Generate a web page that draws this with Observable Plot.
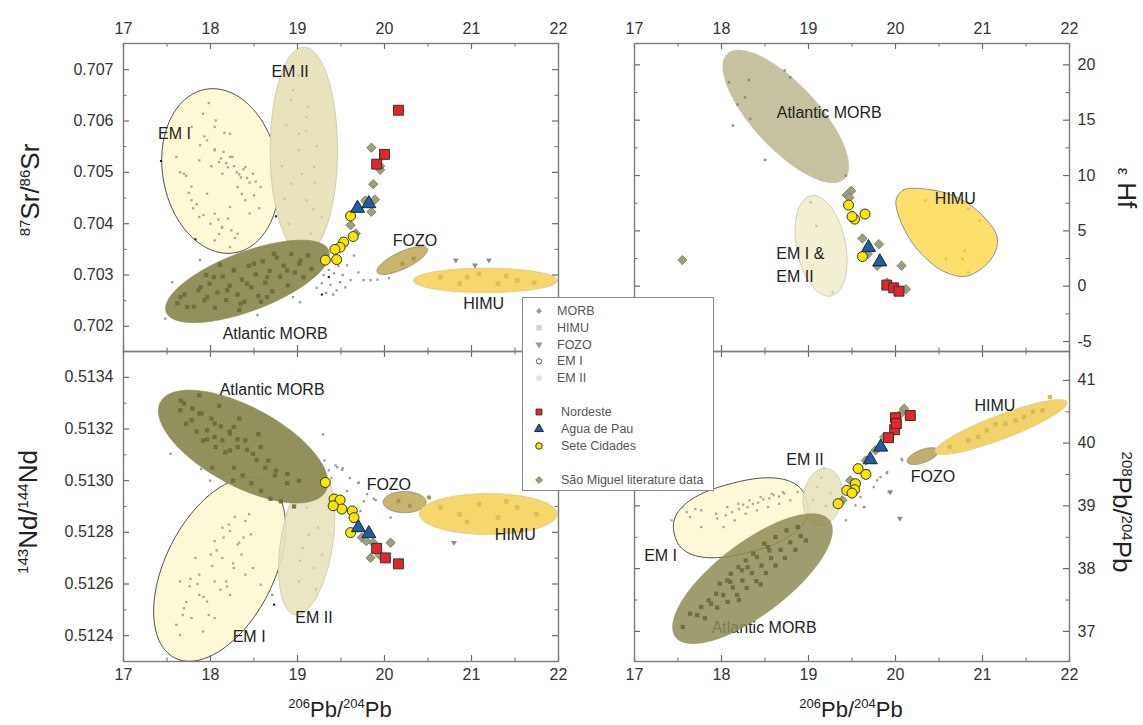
<!DOCTYPE html>
<html><head><meta charset="utf-8">
<script src="https://cdn.jsdelivr.net/npm/d3@7"></script>
<script src="https://cdn.jsdelivr.net/npm/@observablehq/plot@0.6"></script>
<style>
body{margin:0;background:#fff;}
#chart{position:relative;width:1143px;height:725px;font-family:"Liberation Sans",Arial,Helvetica,sans-serif;overflow:hidden;background:#fff;}
#chart svg.panel{position:absolute;overflow:visible;background:transparent;}
.title{position:absolute;color:#222;white-space:nowrap;line-height:1;}
.side{font-size:26px;}
.side sup{font-size:15px;}
.bottom{font-size:22px;}
.bottom sup{font-size:13px;}
#legend{position:absolute;left:522px;top:297px;width:190px;height:192px;border:1px solid #8a8a8a;background:#fff;}
#legend .lt{position:absolute;font-size:12.5px;color:#555;white-space:nowrap;line-height:1;transform:translateY(-50%);}
</style></head><body><div id="chart"></div>
<script>
// ---------------- axes ----------------
const xMajor = [17, 18, 19, 20, 21, 22];
const xMinor = [17.5, 18.5, 19.5, 20.5, 21.5];
const srMajor = [0.702, 0.703, 0.704, 0.705, 0.706, 0.707];
const srMinor = [0.7025, 0.7035, 0.7045, 0.7055, 0.7065];
const ndMajor = [0.5124, 0.5126, 0.5128, 0.5130, 0.5132, 0.5134];
const ndMinor = [0.5125, 0.5127, 0.5129, 0.5131, 0.5133];
const hfMajor = [-5, 0, 5, 10, 15, 20];
const hfMinor = [-2.5, 2.5, 7.5, 12.5, 17.5];
const pbMajor = [37, 38, 39, 40, 41];
const pbMinor = [37.5, 38.5, 39.5, 40.5];

// ---------------- top-left: 87Sr/86Sr vs 206Pb/204Pb ----------------
const tlRegions = [
  {name: "EM I", cx: 18.114, cy: 0.705026, ax: -0.088, ay: 0.001604, bx: 0.669, by: 0},
  {name: "EM II", cx: 19.073, cy: 0.705429, ax: 0, ay: 0.002013, bx: 0.387, by: 0},
  {name: "Atlantic MORB", cx: 18.425, cy: 0.702876, ax: 0.9345, ay: 0.0006, bx: 0.1195, by: -0.000536},
  {name: "FOZO", cx: 20.203, cy: 0.703285, ax: 0.287, ay: 0.000228, bx: 0.041, by: -0.00015},
  {name: "HIMU", cx: 21.161, cy: 0.702895, ax: 0.828, ay: 0, bx: 0, by: 0.000238}
];
const tlLabels = [
  {text: "EM II", x: 18.915, y: 0.706955},
  {text: "EM I", x: 17.585, y: 0.705753},
  {text: "FOZO", x: 20.35, y: 0.703662},
  {text: "HIMU", x: 21.14, y: 0.702429},
  {text: "Atlantic MORB", x: 18.743, y: 0.701857}
];
const tlEm1Dots = [[17.695,0.704974],[17.871,0.705234],[18.048,0.705429],[18.224,0.705299],[18.40,0.705104],[18.488,0.704974],[18.136,0.704974],[18.312,0.704714],[17.96,0.704584],[17.783,0.704455],[18.048,0.704195],[18.224,0.704325],[18.136,0.703935],[18.312,0.703805],[17.96,0.705623],[17.783,0.705883],[18.048,0.705883],[18.224,0.705753],[17.915,0.706143],[18.576,0.704714],[17.607,0.705299],[18.40,0.704455],[18.048,0.703675],[18.224,0.703545],[17.871,0.70413],[18.1,0.7052],[18.2,0.7051],[18.3,0.705],[18.35,0.7049],[18.45,0.7048],[18.15,0.7054],[18.25,0.7053],[17.75,0.7046],[17.8,0.7043],[18.0,0.704],[18.1,0.7038],[18.2,0.7041],[18.45,0.7042],[17.65,0.705],[18.05,0.70545],[18.12,0.70527],[18.18,0.70518],[18.27,0.70512],[18.33,0.70496],[18.38,0.70506],[18.42,0.70489],[18.52,0.70482],[17.88,0.70553],[17.93,0.7057],[18.01,0.70512],[17.72,0.70493],[17.78,0.70472],[17.84,0.70438],[17.92,0.70417],[18.09,0.70408],[18.13,0.70392],[18.24,0.70387],[18.28,0.70372],[18.06,0.70601],[18.16,0.70577],[17.98,0.70635],[18.36,0.70458],[18.5,0.70455],[18.56,0.7043]];
const tlEm2Dots = [[18.928,0.706403],[19.104,0.706078],[19.016,0.705429],[19.192,0.705104],[18.928,0.704779],[19.104,0.704455],[19.28,0.70413],[19.016,0.705753],[18.95,0.7066],[19.1,0.7058],[19.2,0.7048],[18.9,0.704],[19.15,0.7038],[18.82,0.70512],[19.05,0.70497],[19.22,0.70551],[18.87,0.70593],[19.12,0.70628],[19.01,0.70689],[19.18,0.70428],[18.85,0.70448]];
const tlMorbDots = [[17.732,0.702375],[17.962,0.70257],[18.192,0.702701],[18.422,0.702831],[18.652,0.70296],[18.882,0.70309],[18.038,0.70296],[18.268,0.70309],[18.498,0.703221],[17.885,0.702765],[18.345,0.702442],[18.652,0.70257],[19.034,0.703285],[17.655,0.70257],[18.728,0.703416],[17.62,0.70245],[17.7,0.70262],[17.81,0.70238],[17.86,0.7027],[17.93,0.70251],[17.99,0.70283],[18.05,0.70236],[18.08,0.70266],[18.14,0.70297],[18.18,0.70251],[18.22,0.70279],[18.27,0.7031],[18.31,0.70262],[18.36,0.70291],[18.39,0.70248],[18.44,0.70318],[18.47,0.70276],[18.52,0.70301],[18.55,0.70259],[18.6,0.70327],[18.63,0.70285],[18.68,0.70308],[18.71,0.70268],[18.76,0.70334],[18.8,0.70297],[18.84,0.70318],[18.89,0.7028],[18.93,0.70341],[18.97,0.70305],[19.02,0.70322],[19.07,0.70296],[19.12,0.70338],[19.16,0.70312],[18.11,0.7032],[18.33,0.70232],[18.58,0.70248],[17.95,0.703]];
const tlHimuDots = [[20.644,0.702961],[21.085,0.703026],[21.525,0.702896],[20.864,0.702831],[21.305,0.702831],[20.95,0.70296],[21.4,0.70298],[21.72,0.70285]];
const tlFozoDots = [[20.204,0.703221],[20.336,0.703318]];
const tlMorbGray = [[19.28,0.70284],[19.38,0.70281],[19.42,0.70303],[19.45,0.7027],[19.49,0.70286],[19.61,0.7029],[19.76,0.7029],[19.84,0.7029],[19.92,0.70291],[20.05,0.70294],[19.57,0.70319],[19.65,0.70338],[17.56,0.70286],[17.88,0.70329],[18.54,0.70222],[17.48,0.70215],[19.03,0.70247],[18.95,0.70257],[19.33,0.70265],[19.52,0.703],[19.36,0.7031],[19.22,0.70275],[19.7,0.70305],[19.3,0.703],[19.41,0.70262],[19.55,0.70276],[19.47,0.70318]];
const tlEm1Black = [[19.36,0.70296],[18.752,0.704143],[17.827,0.703695],[17.431,0.705221],[19.28,0.70262]];
const tlFozoTri = [[20.82,0.70329],[21.2,0.70329],[21.04,0.70319]];
const tlLiterature = [[19.85,0.70548],[19.95,0.70512],[19.87,0.70477],[19.89,0.70447],[19.85,0.70423],[19.61,0.70397],[19.67,0.70381],[19.78,0.70445],[19.95,0.70505]];
const tlSeteCidades = [[19.61,0.70415],[19.64,0.70375],[19.53,0.70364],[19.49,0.70354],[19.43,0.7035],[19.45,0.7033],[19.32,0.70329]];
const tlAguaDePau = [[19.69,0.7043],[19.82,0.70439]];
const tlNordeste = [[20.16,0.70621],[20.0,0.70535],[19.91,0.70516]];

// ---------------- top-right: εHf vs 206Pb/204Pb ----------------
const trRegions = [
  {name: "Atlantic MORB", cx: 18.739, cy: 15.34, ax: 0.671, ay: -5.656, bx: 0.272, by: 2.0},
  {name: "EM I & EM II", cx: 19.144, cy: 3.647, ax: -0.116, ay: 4.525, bx: 0.276, by: 0.439}
];
const trHimuOutline = [[20.005,7.73],[20.09,8.69],[20.346,8.78],[20.666,8.18],[20.964,6.67],[21.169,4.41],[21.113,2.6],[20.836,0.94],[20.58,1.24],[20.3,2.9],[20.11,5.01]];
const trLabels = [
  {text: "Atlantic MORB", x: 19.238, y: 15.63},
  {text: "HIMU", x: 20.687, y: 7.88}
];
const trLabelsLeft = [
  {text: "EM I &", x: 18.63, y: 2.9},
  {text: "EM II", x: 18.63, y: 0.85}
];
const trMorbDots = [[18.087,18.43],[18.313,18.64],[18.27,17.07],[18.185,16.41],[18.33,15.11],[18.13,14.51],[18.726,19.49],[18.79,18.88],[18.5,11.41],[19.43,9.99]];
const trHimuDots = [[20.346,7.73],[20.836,6.97],[20.964,5.92],[20.794,3.2],[20.77,2.45],[20.58,2.45],[20.836,1.24]];
const trEmDots = [[19.025,7.58],[19.09,5.46],[19.28,-0.57]];
const trLiterature = [[19.49,8.62],[19.44,8.24],[19.47,8.0],[19.62,4.31],[19.81,3.8],[20.12,-0.27],[19.9,0.33],[19.79,1.84],[19.68,2.9],[20.07,1.85],[17.55,2.36]];
const trSeteCidades = [[19.46,7.33],[19.53,6.06],[19.65,6.52],[19.5,6.3],[19.62,2.68]];
const trAguaDePau = [[19.69,3.49],[19.82,2.2]];
const trNordeste = [[19.9,0.1],[19.98,-0.15],[20.04,-0.45]];

// ---------------- bottom-left: 143Nd/144Nd vs 206Pb/204Pb ----------------
const blRegions = [
  {name: "EM I", cx: 18.105, cy: 0.512657, ax: 0.517, ay: 0.000343, bx: 0.555, by: -0.0000962},
  {name: "EM II", cx: 19.106, cy: 0.51276, ax: 0.132, ay: 0.000279, bx: 0.295, by: -0.000016},
  {name: "Atlantic MORB", cx: 18.375, cy: 0.513132, ax: 0.951, ay: -0.000172, bx: -0.214, by: -0.000135},
  {name: "FOZO", cx: 20.231, cy: 0.512917, ax: 0.246, ay: 0, bx: 0, by: 0.0000409},
  {name: "HIMU", cx: 21.194, cy: 0.512871, ax: 0.792, ay: 0, bx: 0, by: 0.0000791}
];
const blLabels = [
  {text: "Atlantic MORB", x: 18.708, y: 0.513353},
  {text: "FOZO", x: 20.05, y: 0.512984},
  {text: "HIMU", x: 21.503, y: 0.51279},
  {text: "EM II", x: 19.19, y: 0.51247},
  {text: "EM I", x: 18.444, y: 0.512396}
];
const blEm1Dots = [[17.651,0.51261],[17.871,0.512636],[18.048,0.512766],[18.224,0.512805],[18.40,0.512844],[18.444,0.51287],[18.136,0.512701],[18.268,0.512662],[18.048,0.51261],[17.871,0.512558],[17.695,0.512506],[17.607,0.512442],[17.783,0.512468],[17.96,0.512532],[18.224,0.512558],[18.40,0.512636],[18.488,0.512662],[18.312,0.512753],[18.136,0.512818],[18.004,0.512714],[17.827,0.512701],[17.651,0.512403],[18.18,0.51261],[18.356,0.512714],[18.576,0.512597],[18.048,0.512468],[17.915,0.512416],[18.114,0.512578],[18.466,0.512792],[17.761,0.512591],[17.85,0.5126],[17.92,0.51255],[18.02,0.51267],[18.07,0.51273],[18.15,0.51278],[18.21,0.51283],[18.28,0.51286],[18.33,0.51276],[17.72,0.51253],[17.77,0.51262],[18.19,0.51259],[18.26,0.51268],[17.98,0.51248],[17.68,0.51248],[18.38,0.51278]];
const blEm2Dots = [[19.104,0.512896],[19.236,0.512818],[19.06,0.51274],[19.192,0.512662],[19.016,0.51261],[19.28,0.512714],[19.13,0.51279],[19.03,0.51269],[19.21,0.51258]];
const blMorbDots = [[17.695,0.513299],[17.871,0.51326],[18.048,0.513221],[18.224,0.513182],[17.96,0.513195],[18.136,0.513156],[18.312,0.51313],[18.488,0.513104],[18.664,0.513078],[18.752,0.513039],[17.783,0.513234],[17.651,0.513273],[18.40,0.513156],[18.576,0.51313],[18.048,0.513169],[18.224,0.513117],[18.884,0.513026],[19.016,0.513],[17.915,0.513156],[18.268,0.513208],[17.66,0.51331],[17.72,0.51322],[17.79,0.51328],[17.84,0.51319],[17.9,0.51326],[17.96,0.51316],[18.01,0.51324],[18.06,0.51313],[18.12,0.51321],[18.17,0.51311],[18.22,0.51319],[18.27,0.51305],[18.31,0.51316],[18.37,0.51302],[18.42,0.51312],[18.47,0.51299],[18.53,0.51308],[18.58,0.51296],[18.63,0.51305],[18.69,0.51293],[18.74,0.51302],[18.81,0.51292],[18.88,0.51299],[18.96,0.5129],[17.87,0.51333],[18.1,0.51329],[18.33,0.51324],[18.55,0.51318],[18.02,0.51305],[18.26,0.513]];
const blHimuDots = [[20.644,0.512896],[20.864,0.51287],[21.085,0.512909],[21.305,0.512857],[21.525,0.512896],[21.745,0.51287],[20.95,0.51284],[21.4,0.51292]];
const blFozoDots = [[20.16,0.512922],[20.292,0.512903],[20.512,0.512935]];
const blMorbGray = [[19.295,0.513179],[19.31,0.513078],[19.437,0.513059],[19.514,0.513042],[19.36,0.51304],[19.571,0.51296],[19.705,0.512993],[19.762,0.51292],[19.897,0.512925],[19.8,0.512948],[19.724,0.512883],[20.07,0.512857],[19.877,0.51293],[19.456,0.513052],[19.52,0.513048],[19.698,0.512991],[17.541,0.513104],[17.893,0.513045],[17.995,0.513],[17.96,0.512935],[18.22,0.513026],[17.87,0.51287],[18.03,0.51291],[18.71,0.512558],[19.39,0.51301],[19.6,0.51301],[19.95,0.51297]];
const blEm1Black = [[18.73,0.51252]];
const blFozoTri = [[20.798,0.51276]];
const blLiterature = [[20.07,0.51276],[19.84,0.512701],[19.87,0.51276],[19.74,0.51278],[19.94,0.512713],[19.79,0.512766]];
const blSeteCidades = [[19.32,0.512993],[19.42,0.512929],[19.49,0.512925],[19.51,0.51289],[19.41,0.512903],[19.63,0.512883],[19.65,0.512857],[19.61,0.512799]];
const blAguaDePau = [[19.7,0.512818],[19.82,0.512795]];
const blNordeste = [[19.91,0.512738],[20.01,0.512701],[20.16,0.512678]];

// ---------------- bottom-right: 208Pb/204Pb vs 206Pb/204Pb ----------------
const brRegions = [
  {name: "EM I", cx: 18.22, cy: 38.81, ax: 0.76, ay: 0.27, bx: 0.101, by: -0.548, p: 2.4},
  {name: "EM II", cx: 19.163, cy: 39.14, ax: 0.03, ay: 0.457, bx: 0.224, by: 0},
  {name: "Atlantic MORB", cx: 18.356, cy: 37.84, ax: 0.884, ay: 0.929, bx: 0.249, by: -0.457},
  {name: "FOZO", cx: 20.313, cy: 39.792, ax: 0.177, ay: 0.0924, bx: 0.026, by: -0.097},
  {name: "HIMU", cx: 21.213, cy: 40.256, ax: 0.756, ay: 0.398, bx: 0.049, by: -0.178}
];
const brLabelsUnder = [
  {text: "EM I", x: 17.3, y: 38.21},
  {text: "Atlantic MORB", x: 18.49, y: 37.06}
];
const brLabels = [
  {text: "HIMU", x: 21.143, y: 40.6},
  {text: "EM II", x: 18.96, y: 39.74},
  {text: "FOZO", x: 20.43, y: 39.46}
];
const brEm1Dots = [[17.554,38.981],[17.767,38.928],[17.938,38.875],[18.066,38.981],[18.194,39.034],[18.322,39.088],[18.45,39.141],[18.577,39.194],[18.705,39.22],[18.023,38.663],[18.151,38.769],[18.279,38.875],[18.407,38.928],[18.535,38.981],[18.662,39.034],[18.79,39.088],[17.767,38.663],[17.639,38.822],[17.426,38.769],[18.876,39.22],[18.3,38.98],[18.36,39.03],[18.42,39.05],[18.48,39.1],[18.55,39.12],[18.6,39.17],[18.66,39.15],[18.2,38.95],[18.12,38.9],[18.05,38.85],[17.95,38.8],[17.7,38.95],[17.6,38.9],[18.72,39.2],[18.25,39.02]];
const brEm2Dots = [[19.1,39.3],[19.2,39.0],[19.15,39.45],[19.25,39.2],[19.05,39.1],[19.18,39.6]];
const brMorbDots = [[17.639,37.281],[17.853,37.494],[17.98,37.76],[18.108,37.919],[18.194,38.025],[18.279,38.131],[18.364,38.238],[18.492,38.397],[18.62,38.503],[18.748,38.61],[18.876,38.663],[17.938,37.6],[18.066,37.813],[18.236,37.972],[18.407,38.185],[18.535,38.344],[17.767,37.388],[17.554,37.069],[17.72,37.26],[17.81,37.21],[17.88,37.44],[17.95,37.38],[18.02,37.58],[18.07,37.47],[18.13,37.7],[18.18,37.58],[18.24,37.81],[18.29,37.69],[18.35,37.93],[18.4,37.8],[18.46,38.05],[18.51,37.93],[18.57,38.17],[18.62,38.05],[18.68,38.3],[18.73,38.17],[18.79,38.42],[18.85,38.3],[18.91,38.52],[18.97,38.45],[18.1,37.79],[18.3,38.02],[18.55,38.29],[18.2,37.5],[18.45,37.75]];
const brHimuDots = [[20.623,39.938],[20.836,40.044],[21.049,40.203],[21.263,40.309],[21.476,40.416],[21.689,40.522],[21.774,40.734],[20.95,40.1],[21.15,40.3],[21.38,40.36],[21.58,40.5]];
const brMorbGray = [[19.693,39.566],[19.79,39.406],[19.905,39.539],[19.923,39.22],[20.077,39.725],[19.636,38.981],[19.54,39.008],[19.598,39.14],[19.828,39.459],[19.75,39.3],[19.9,39.52],[19.643,38.98],[19.43,38.77],[20.07,39.75]];
const brFozoTri = [[20.05,38.8],[19.94,39.22]];
const brLiterature = [[20.06,40.469],[19.87,40.097],[19.77,39.884],[19.66,39.725],[19.48,39.406],[19.39,39.088],[20.1,40.55]];
const brSeteCidades = [[19.57,39.593],[19.66,39.502],[19.54,39.354],[19.53,39.258],[19.44,39.247],[19.5,39.204],[19.34,39.035]];
const brAguaDePau = [[19.83,39.937],[19.71,39.736]];
const brNordeste = [[20.17,40.44],[20.0,40.405],[19.99,40.214],[19.92,40.087],[20.01,40.31]];

// ---------------- legend ----------------
const legendBackground = ["MORB", "HIMU", "FOZO", "EM I", "EM II"];
const legendSamples = ["Nordeste", "Agua de Pau", "Sete Cidades"];
const legendLiterature = ["São Miguel literature data"];

// ---------------- styles ----------------
const FONT = '"Liberation Sans", Arial, Helvetica, sans-serif';
const baseStyle = {
  "EM I": {fill: "#fdf9d7", stroke: "#3c3c3c", sw: 0.9},
  "EM II": {fill: "#e8e2bd", stroke: "#d2cdb4", sw: 1},
  "Atlantic MORB": {fill: "#8e8b55", stroke: "#8e8b55", sw: 0.5, op: 0.96},
  "FOZO": {fill: "#c8b46c", stroke: "#9a9580", sw: 1},
  "HIMU": {fill: "#f6d76c", stroke: "#e3cf8c", sw: 1}
};
const trStyle = {
  "Atlantic MORB": {fill: "#c6c2a1", stroke: "#c6c2a1", sw: 0.5},
  "EM I & EM II": {fill: "#f3efd3", stroke: "#d0cdbd", sw: 1},
  "HIMU": {fill: "#fde06c", stroke: "#8f8f8f", sw: 1}
};
const sym = {
  lit: {symbol: "diamond2", r: 4.2, fill: "#9d9d8c", stroke: "#7f9046", strokeWidth: 1},
  sete: {symbol: "circle", r: 5, fill: "#f8e600", stroke: "#333", strokeWidth: 1},
  agua: {symbol: "triangle", r: 5.2, fill: "#1d5ea8", stroke: "#222", strokeWidth: 1},
  nord: {symbol: "square", r: 5.6, fill: "#e3262b", stroke: "#333", strokeWidth: 1}
};

function ellipsePts(e, n = 120) {
  const p = e.p || 2, pts = [];
  for (let i = 0; i < n; i++) {
    const t = 2 * Math.PI * i / n, c = Math.cos(t), s = Math.sin(t);
    const cc = Math.sign(c) * Math.pow(Math.abs(c), 2 / p);
    const ss = Math.sign(s) * Math.pow(Math.abs(s), 2 / p);
    pts.push({x: e.cx + cc * e.ax + ss * e.bx, y: e.cy + cc * e.ay + ss * e.by});
  }
  return pts;
}
function regionMark(e, st) {
  return Plot.line(ellipsePts(e), {x: "x", y: "y", curve: "linear-closed", fill: st.fill, fillOpacity: st.op ?? 1,
    stroke: st.stroke, strokeWidth: st.sw ?? 1, clip: true});
}
function dots(pts, o) {
  return Plot.dot(pts, {x: d => d[0], y: d => d[1], symbol: o.symbol || "square", r: o.r || 1.3,
    fill: o.fill || "#999", fillOpacity: o.op ?? 1, stroke: o.stroke || "none", strokeWidth: o.strokeWidth || 1, rotate: o.rotate || 0, clip: true});
}
function labelMark(arr, anchor = "middle") {
  return Plot.text(arr, {x: "x", y: "y", text: "text", fontSize: 16, fill: "#222", textAnchor: anchor, fontFamily: FONT});
}
function samples(lit, sete, agua, nord) {
  return [dots(lit, sym.lit), dots(sete, sym.sete), dots(agua, sym.agua), dots(nord, sym.nord)];
}

function panel(cfg) {
  const W = cfg.width - cfg.ml - cfg.mr, H = cfg.height - cfg.mt - cfg.mb;
  const tc = "#6a6a6a";
  const ticks = [
    Plot.ruleX(xMajor, {insetBottom: H - 6, stroke: tc, strokeWidth: 1.2}),
    Plot.ruleX(xMajor, {insetTop: H - 6, stroke: tc, strokeWidth: 1.2}),
    Plot.ruleX(xMinor, {insetBottom: H - 3.5, stroke: tc}),
    Plot.ruleX(xMinor, {insetTop: H - 3.5, stroke: tc}),
    Plot.ruleY(cfg.yMajor, {insetRight: W - 6, stroke: tc, strokeWidth: 1.2}),
    Plot.ruleY(cfg.yMajor, {insetLeft: W - 6, stroke: tc, strokeWidth: 1.2}),
    Plot.ruleY(cfg.yMinor, {insetRight: W - 3.5, stroke: tc}),
    Plot.ruleY(cfg.yMinor, {insetLeft: W - 3.5, stroke: tc}),
    Plot.frame({stroke: "#7b7b7b", strokeWidth: 1.4}),
    Plot.axisX(xMajor, {anchor: cfg.xAnchor, tickSize: 0, tickPadding: cfg.xPad, fontSize: 16, label: null, tickFormat: d => String(d)}),
    Plot.axisY(cfg.yMajor, {anchor: cfg.yAnchor, tickSize: 0, tickPadding: cfg.yPad, fontSize: 16, label: null, tickFormat: cfg.yFormat})
  ];
  const svg = Plot.plot({
    width: cfg.width, height: cfg.height,
    marginLeft: cfg.ml, marginRight: cfg.mr, marginTop: cfg.mt, marginBottom: cfg.mb,
    x: {domain: [17, 22], label: null},
    y: {domain: cfg.yDomain, label: null},
    style: {fontFamily: FONT, color: "#333", background: "transparent", overflow: "visible"},
    marks: [...cfg.marks, ...ticks]
  });
  svg.classList.add("panel");
  svg.style.left = cfg.left + "px";
  svg.style.top = cfg.top + "px";
  svg.style.maxWidth = "none";
  document.getElementById("chart").appendChild(svg);
}

const em1Dot = {fill: "#a9a89a", r: 1.3};
const em2Dot = {fill: "#cfc8a6", r: 1.3};
const morbDot = {fill: "#6c6a39", r: 2.4, op: 0.9};
const himuDot = {fill: "#e0bd55", r: 2.6};
const fozoDot = {fill: "#a6994f", r: 2.2};
const grayDot = {fill: "#9a9a9a", r: 1.3};
const blackDot = {fill: "#222", r: 1.2};
const fozoTri = {symbol: "triangle", rotate: 180, fill: "#8e8e8e", r: 2.2};

const R = (arr, name, st) => regionMark(arr.find(d => d.name === name), st[name]);

// Top-left
panel({
  left: 0, top: 0, width: 600, height: 360, ml: 123, mr: 42, mt: 43, mb: 9,
  yDomain: [0.70151, 0.70751], yMajor: srMajor, yMinor: srMinor, yFormat: d3.format(".3f"),
  xAnchor: "top", yAnchor: "left", xPad: 10, yPad: 10,
  marks: [
    dots(tlMorbGray, grayDot),
    R(tlRegions, "EM I", baseStyle), dots(tlEm1Dots, em1Dot),
    R(tlRegions, "EM II", baseStyle), dots(tlEm2Dots, em2Dot),
    R(tlRegions, "Atlantic MORB", baseStyle), dots(tlMorbDots, morbDot),
    R(tlRegions, "FOZO", baseStyle), dots(tlFozoDots, fozoDot),
    R(tlRegions, "HIMU", baseStyle), dots(tlHimuDots, himuDot),
    dots(tlEm1Black, blackDot), dots(tlFozoTri, fozoTri),
    labelMark(tlLabels),
    ...samples(tlLiterature, tlSeteCidades, tlAguaDePau, tlNordeste)
  ]
});

// Bottom-left
panel({
  left: 0, top: 340, width: 600, height: 350, ml: 123, mr: 42, mt: 11, mb: 29,
  yDomain: [0.5123, 0.5135], yMajor: ndMajor, yMinor: ndMinor, yFormat: d3.format(".4f"),
  xAnchor: "bottom", yAnchor: "left", xPad: 7, yPad: 10,
  marks: [
    dots(blMorbGray, grayDot),
    R(blRegions, "EM I", baseStyle), dots(blEm1Dots, em1Dot),
    R(blRegions, "EM II", {"EM II": {...baseStyle["EM II"], op: 0.9}}), dots(blEm2Dots, em2Dot),
    R(blRegions, "Atlantic MORB", baseStyle), dots(blMorbDots, morbDot),
    R(blRegions, "FOZO", baseStyle), dots(blFozoDots, fozoDot),
    R(blRegions, "HIMU", baseStyle), dots(blHimuDots, himuDot),
    dots(blEm1Black, blackDot), dots(blFozoTri, fozoTri),
    labelMark(blLabels),
    ...samples(blLiterature, blSeteCidades, blAguaDePau, blNordeste)
  ]
});

// Top-right
panel({
  left: 590, top: 0, width: 553, height: 360, ml: 44, mr: 74, mt: 43, mb: 9,
  yDomain: [-5.9, 21.93], yMajor: hfMajor, yMinor: hfMinor, yFormat: d => String(d),
  xAnchor: "top", yAnchor: "right", xPad: 10, yPad: 8,
  marks: [
    R(trRegions, "Atlantic MORB", trStyle), dots(trMorbDots, {fill: "#8c8c84", r: 1.4}),
    R(trRegions, "EM I & EM II", trStyle), dots(trEmDots, {fill: "#c9c6b6", r: 1.4}),
    Plot.line(trHimuOutline, {x: d => d[0], y: d => d[1], curve: "catmull-rom-closed", fill: trStyle.HIMU.fill,
      stroke: trStyle.HIMU.stroke, strokeWidth: 1, clip: true}),
    dots(trHimuDots, {fill: "#d9c27a", r: 1.5}),
    labelMark(trLabels), labelMark(trLabelsLeft, "start"),
    ...samples(trLiterature, trSeteCidades, trAguaDePau, trNordeste)
  ]
});

// Bottom-right
panel({
  left: 590, top: 340, width: 553, height: 350, ml: 44, mr: 74, mt: 11, mb: 29,
  yDomain: [36.52, 41.46], yMajor: pbMajor, yMinor: pbMinor, yFormat: d => String(d),
  xAnchor: "bottom", yAnchor: "right", xPad: 7, yPad: 8,
  marks: [
    dots(brMorbGray, grayDot), dots(brFozoTri, fozoTri),
    labelMark(brLabelsUnder),
    R(brRegions, "EM I", {"EM I": {...baseStyle["EM I"], op: 0.97}}), dots(brEm1Dots, em1Dot),
    R(brRegions, "EM II", {"EM II": {...baseStyle["EM II"], op: 0.9}}), dots(brEm2Dots, em2Dot),
    R(brRegions, "Atlantic MORB", {"Atlantic MORB": {fill: "#8e8c56", stroke: "#8e8c56", sw: 0.5, op: 0.85}}), dots(brMorbDots, morbDot),
    R(brRegions, "FOZO", {"FOZO": {...baseStyle.FOZO, fill: "#bfae6c"}}),
    R(brRegions, "HIMU", {"HIMU": {...baseStyle.HIMU, fill: "#f2d36a"}}), dots(brHimuDots, {fill: "#d6b95f", r: 2.4}),
    labelMark(brLabels),
    ...samples(brLiterature, brSeteCidades, brAguaDePau, brNordeste)
  ]
});

// ---------------- axis titles ----------------
const chart = document.getElementById("chart");
function title(html, cls, x, y, rot) {
  const d = document.createElement("div");
  d.className = "title " + cls;
  d.innerHTML = html;
  d.style.left = x + "px"; d.style.top = y + "px";
  d.style.transform = `translate(-50%,-50%) rotate(${rot}deg)`;
  chart.appendChild(d);
}
title("<sup>87</sup>Sr/<sup>86</sup>Sr", "side", 30, 190, -90);
title("<sup>143</sup>Nd/<sup>144</sup>Nd", "side", 28, 512, -90);
title('<span style="font-size:16px">ε</span> Hf', "side", 1127, 188, 90);
title("<sup>208</sup>Pb/<sup>204</sup>Pb", "side", 1122, 512, 90);
title("<sup>206</sup>Pb/<sup>204</sup>Pb", "bottom", 340, 709, 0);
title("<sup>206</sup>Pb/<sup>204</sup>Pb", "bottom", 851, 709, 0);

// ---------------- legend ----------------
const lg = document.createElement("div");
lg.id = "legend";
chart.appendChild(lg);
const legendSym = {
  "MORB": {type: d3.symbolDiamond2, size: 22, fill: "#9a9a9a", stroke: "none"},
  "HIMU": {type: d3.symbolSquare, size: 30, fill: "#d2d2d2", stroke: "none"},
  "FOZO": {type: d3.symbolTriangle, size: 22, fill: "#9a9a9a", stroke: "none", rot: 180},
  "EM I": {type: d3.symbolCircle, size: 22, fill: "#fff", stroke: "#555"},
  "EM II": {type: d3.symbolCircle, size: 26, fill: "#e2e2e2", stroke: "none"},
  "Nordeste": {type: d3.symbolSquare, size: 34, fill: "#e3262b", stroke: "#333"},
  "Agua de Pau": {type: d3.symbolTriangle, size: 34, fill: "#1d5ea8", stroke: "#222"},
  "Sete Cidades": {type: d3.symbolCircle, size: 34, fill: "#f8e600", stroke: "#333"},
  "São Miguel literature data": {type: d3.symbolDiamond2, size: 30, fill: "#9d9d8c", stroke: "#7f9046"}
};
const rows = [
  ...legendBackground.map((t, i) => ({t, y: 13 + i * 16.8, tx: 34})),
  ...legendSamples.map((t, i) => ({t, y: 114 + i * 17, tx: 38})),
  ...legendLiterature.map((t) => ({t, y: 182, tx: 38}))
];
const lsvg = d3.create("svg").attr("width", 30).attr("height", 192)
  .style("position", "absolute").style("left", "0px").style("top", "0px");
for (const r of rows) {
  const s = legendSym[r.t];
  lsvg.append("path").attr("d", d3.symbol(s.type, s.size)())
    .attr("transform", `translate(16,${r.y}) rotate(${s.rot || 0})`)
    .attr("fill", s.fill).attr("stroke", s.stroke).attr("stroke-width", 1);
  const t = document.createElement("div");
  t.className = "lt"; t.textContent = r.t;
  t.style.left = r.tx + "px"; t.style.top = r.y + "px";
  lg.appendChild(t);
}
lg.appendChild(lsvg.node());
</script></body></html>
